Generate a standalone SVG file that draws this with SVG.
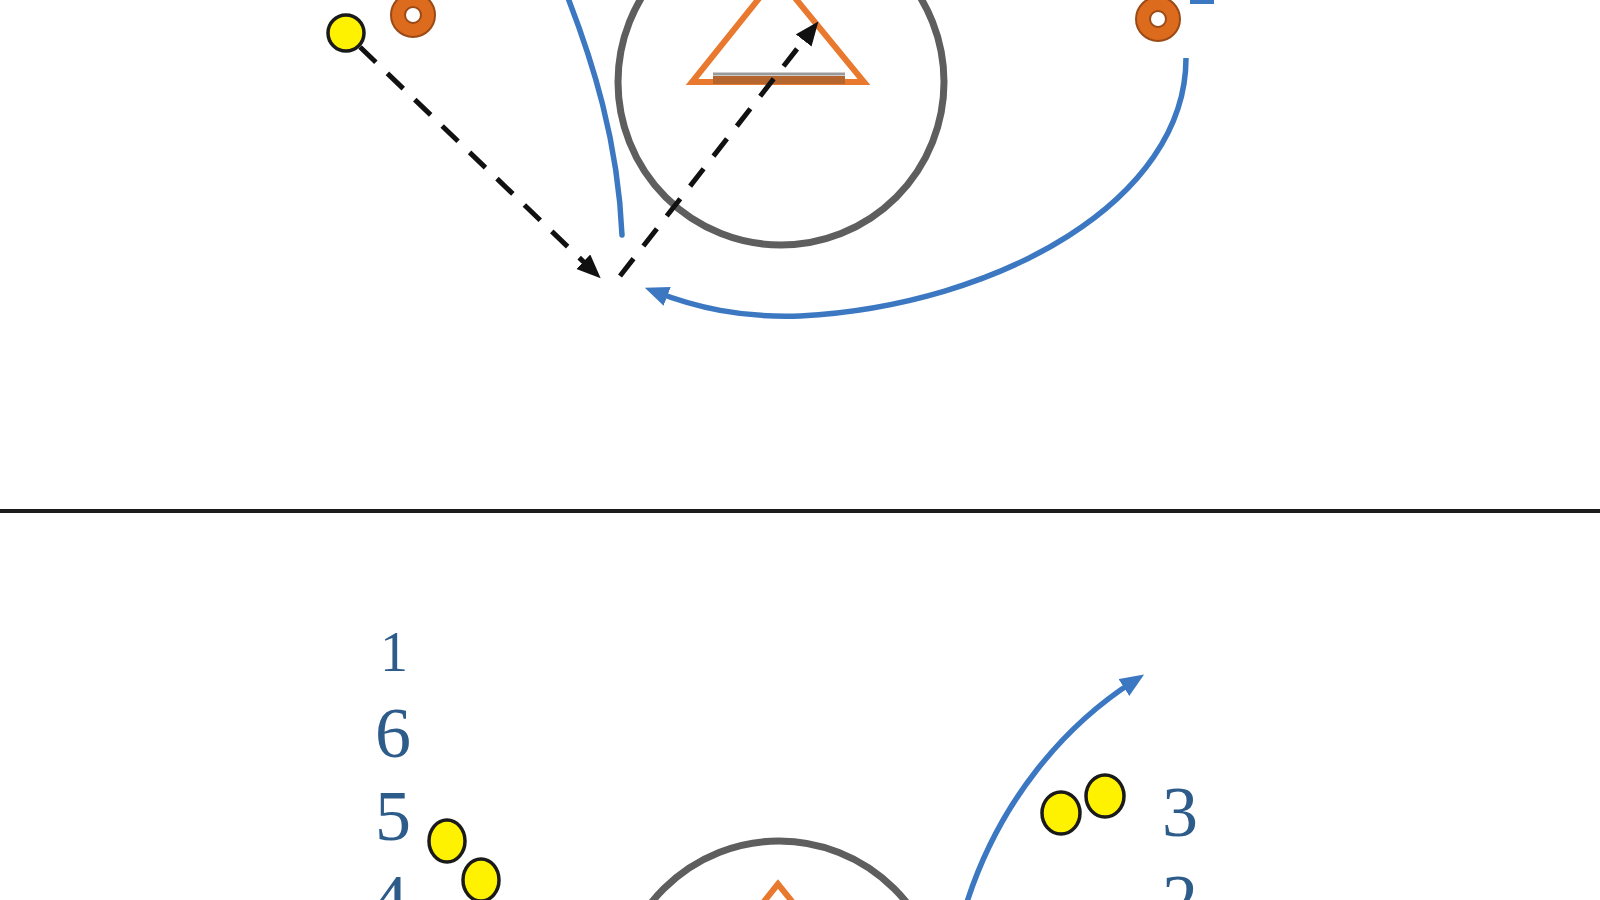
<svg xmlns="http://www.w3.org/2000/svg" width="1600" height="900" viewBox="0 0 1600 900">
<defs>
<style>
.ring{fill:#DC6B1E;stroke:#9B4A16;stroke-width:2}
.hole{fill:#fff;stroke:#9B4A16;stroke-width:2}
.player{fill:#FFF200;stroke:#1a1a1a;stroke-width:3.5}
.zone{fill:none;stroke:#5e5e5e;stroke-width:7}
.cone{fill:none;stroke:#E8792F;stroke-width:6;stroke-linejoin:miter}
.dash{fill:none;stroke:#111;stroke-width:5;stroke-dasharray:22 16}
.run{fill:none;stroke:#3C78C2;stroke-width:5.5;stroke-linecap:butt}
.num{font-family:"Liberation Serif","DejaVu Serif",serif;fill:#2E5C8A;text-anchor:middle}
</style>
<marker id="ahBlack" markerUnits="userSpaceOnUse" markerWidth="26" markerHeight="22" refX="12" refY="10" orient="auto">
<path d="M0,0 L24,10 L0,20 z" fill="#111"/>
</marker>
<marker id="ahBlue" markerUnits="userSpaceOnUse" markerWidth="26" markerHeight="22" refX="12" refY="10" orient="auto">
<path d="M0,0 L24,10 L0,20 z" fill="#3C78C2"/>
</marker>
</defs>
<rect x="0" y="0" width="1600" height="900" fill="#fff"/>

<!-- top panel -->
<g id="zone-top"><circle class="zone" cx="781" cy="82" r="163"/></g>
<g id="cone-top">
<polygon class="cone" points="777,-24 692,82 864,82"/>
<line x1="713" y1="74" x2="845" y2="74" stroke="#9a9a9a" stroke-width="3"/>
<line x1="713" y1="80" x2="845" y2="80" stroke="#B5652E" stroke-width="8"/>
</g>
<g id="player-top"><circle class="player" cx="346" cy="33" r="18"/></g>
<g id="marker-left"><circle class="ring" cx="413" cy="15" r="22"/><circle class="hole" cx="413" cy="15" r="8"/></g>
<g id="marker-right"><circle class="ring" cx="1158" cy="19" r="22"/><circle class="hole" cx="1158" cy="19" r="8"/></g>
<g id="label-top-right"><rect x="1190" y="0" width="24" height="4" fill="#3C78C2"/></g>

<g id="connectors">
<path class="run" style="stroke-linecap:round" d="M568,-2 C592,60 618,140 622,235"/>
<path class="run" d="M1186,58 C1186,200 1000,305 800,316 C740,318 695,307 656,292" marker-end="url(#ahBlue)"/>
<path class="dash" d="M360,47 L592,270" marker-end="url(#ahBlack)"/>
<path class="dash" d="M620,276 L811,31" marker-end="url(#ahBlack)"/>
<path class="run" d="M967,902 C1000,800 1065,725 1134,681" marker-end="url(#ahBlue)"/>
</g>

<!-- divider -->
<g id="divider"><line x1="0" y1="511" x2="1600" y2="511" stroke="#1c1c1c" stroke-width="4"/></g>

<!-- bottom panel -->
<g id="zone-bottom"><circle class="zone" cx="779" cy="1004" r="163"/></g>
<g id="cone-bottom"><polygon class="cone" points="778,884 693,990 863,990"/></g>
<g id="players-left">
<ellipse class="player" cx="447" cy="841" rx="18" ry="21"/>
<ellipse class="player" cx="481" cy="880" rx="18" ry="21"/>
</g>
<g id="players-right">
<ellipse class="player" cx="1061" cy="813" rx="19" ry="21"/>
<ellipse class="player" cx="1105" cy="796" rx="19" ry="21"/>
</g>
<g id="labels-left">
<text class="num" x="394" y="671" font-size="56">1</text>
<text class="num" x="393" y="757" font-size="72">6</text>
<text class="num" x="393" y="840" font-size="72">5</text>
<text class="num" x="390" y="924" font-size="72">4</text>
</g>
<g id="labels-right">
<text class="num" x="1180" y="836" font-size="72">3</text>
<text class="num" x="1180" y="924" font-size="72">2</text>
</g>
</svg>
